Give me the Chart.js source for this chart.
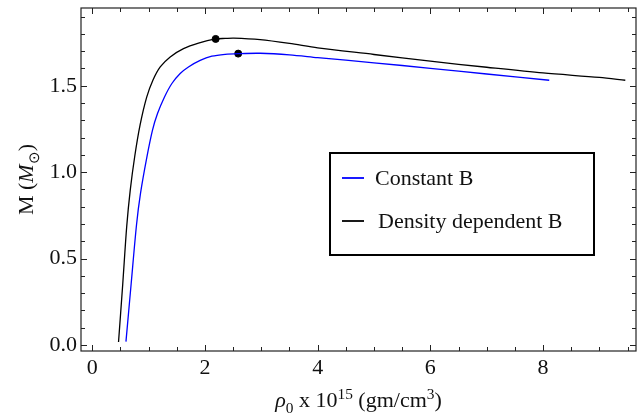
<!DOCTYPE html>
<html>
<head>
<meta charset="utf-8">
<script src="https://cdn.jsdelivr.net/npm/chart.js@4"></script>
<style>
  html, body { margin: 0; padding: 0; background: #fff; }
  #wrap { width: 643px; height: 419px; }
</style>
</head>
<body>
<div id="wrap"><canvas id="chart"></canvas></div>
<script>
// density rho0 (x 10^15 gm/cm^3) vs mass M (solar masses)
const constRho = [0.598, 0.691, 0.785, 0.856, 0.970, 1.069, 1.158, 1.282, 1.413, 1.560, 1.707, 1.915, 2.122, 2.358, 2.59, 2.98, 3.5, 4.0, 5.0, 6.0, 7.0, 8.11];
const constM   = [0.019, 0.357, 0.694, 0.877, 1.088, 1.243, 1.339, 1.435, 1.513, 1.571, 1.609, 1.647, 1.671, 1.682, 1.686, 1.688, 1.679, 1.663, 1.633, 1.601, 1.568, 1.532];

const densRho = [0.466, 0.541, 0.612, 0.674, 0.754, 0.848, 0.966, 1.076, 1.206, 1.383, 1.619, 1.885, 2.19, 2.36, 2.51, 2.98, 3.5, 4.0, 5.0, 6.0, 7.0, 8.0, 9.0, 9.46];
const densM   = [0.017, 0.353, 0.688, 0.896, 1.092, 1.272, 1.434, 1.532, 1.609, 1.667, 1.715, 1.747, 1.771, 1.774, 1.776, 1.767, 1.745, 1.719, 1.681, 1.642, 1.607, 1.574, 1.548, 1.532];

// maximum-mass markers
const maxRho = [2.19, 2.59];
const maxM   = [1.771, 1.686];

const xMajor = [0, 2, 4, 6, 8];
const yMajor = [0, 0.5, 1, 1.5];

const FONT = '"Liberation Serif", "Times New Roman", serif';

const pts = (xs, ys) => xs.map((x, i) => ({ x: x, y: ys[i] }));

// draw a run of text pieces: [text, italic, shift] shift: 0 / 'sub' / 'sup'
function richWidth(ctx, parts, size) {
  let w = 0;
  parts.forEach(p => {
    const s = p[2] ? size * 0.7 : size;
    ctx.font = (p[1] ? 'italic ' : '') + s + 'px ' + FONT;
    w += ctx.measureText(p[0]).width;
  });
  return w;
}
function drawRich(ctx, parts, x, y, size) {
  let cx = x;
  parts.forEach(p => {
    const s = p[2] ? size * 0.7 : size;
    ctx.font = (p[1] ? 'italic ' : '') + s + 'px ' + FONT;
    let dy = 0;
    if (p[2] === 'sub') dy = size * 0.25;
    if (p[2] === 'sup') dy = -size * 0.38;
    ctx.fillText(p[0], cx, y + dy);
    cx += ctx.measureText(p[0]).width;
  });
}

const framePlugin = {
  id: 'frame',
  afterDatasetsDraw(chart) {
    const ctx = chart.ctx;
    const a = chart.chartArea;
    const xs = chart.scales.x, ys = chart.scales.y;
    ctx.save();
    ctx.strokeStyle = '#222';
    ctx.lineWidth = 1.2;
    ctx.strokeRect(a.left, a.top, a.right - a.left, a.bottom - a.top);

    ctx.lineWidth = 1;
    ctx.beginPath();
    for (let v = 0; v <= 9.5001; v += 0.5) {
      const px = Math.round(xs.getPixelForValue(v)) + 0.5;
      const len = Math.abs(v % 2) < 1e-6 ? 6 : 4;
      ctx.moveTo(px, a.bottom); ctx.lineTo(px, a.bottom - len);
      ctx.moveTo(px, a.top); ctx.lineTo(px, a.top + len);
    }
    for (let i = 0; i <= 19; i++) {
      const v = i / 10;
      const py = Math.round(ys.getPixelForValue(v)) + 0.5;
      const len = i % 5 === 0 ? 6 : 4;
      ctx.moveTo(a.left, py); ctx.lineTo(a.left + len, py);
      ctx.moveTo(a.right, py); ctx.lineTo(a.right - len, py);
    }
    ctx.stroke();

    // axis titles
    ctx.fillStyle = '#111';
    ctx.textBaseline = 'alphabetic';
    const size = 22;
    const xParts = [['\u03C1', true, 0], ['0', false, 'sub'], [' x 10', false, 0], ['15', false, 'sup'],
                    [' (gm/cm', false, 0], ['3', false, 'sup'], [')', false, 0]];
    const xw = richWidth(ctx, xParts, size);
    drawRich(ctx, xParts, (a.left + a.right) / 2 - xw / 2, 407, size);

    const yParts = [['M (', false, 0], ['M', true, 0], ['\u2299', false, 'sub'], [')', false, 0]];
    const yw = richWidth(ctx, yParts, size);
    ctx.translate(33, (a.top + a.bottom) / 2);
    ctx.rotate(-Math.PI / 2);
    drawRich(ctx, yParts, -yw / 2, 0, size);
    ctx.restore();

    // legend box
    ctx.save();
    ctx.strokeStyle = '#000';
    ctx.lineWidth = 2;
    ctx.strokeRect(330, 153, 264, 102);
    ctx.font = '22px ' + FONT;
    ctx.fillStyle = '#111';
    ctx.textBaseline = 'middle';
    const legendRows = [[chart.data.datasets[0], 178, 375], [chart.data.datasets[1], 221, 378]];
    legendRows.forEach(r => {
      ctx.strokeStyle = r[0].borderColor;
      ctx.lineWidth = 1.8;
      ctx.beginPath();
      ctx.moveTo(342, r[1]); ctx.lineTo(364, r[1]);
      ctx.stroke();
      ctx.fillText(r[0].label, r[2], r[1] + 1);
    });
    ctx.restore();
  }
};

new Chart(document.getElementById('chart'), {
  type: 'scatter',
  data: {
    datasets: [
      {
        label: 'Constant B',
        data: pts(constRho, constM),
        showLine: true,
        borderColor: '#0000ff',
        borderWidth: 1.3,
        pointRadius: 0,
        tension: 0.3,
      },
      {
        label: 'Density dependent B',
        data: pts(densRho, densM),
        showLine: true,
        borderColor: '#000000',
        borderWidth: 1.3,
        pointRadius: 0,
        tension: 0.3,
      },
      {
        label: 'max',
        data: pts(maxRho, maxM),
        showLine: false,
        pointRadius: 3.5,
        backgroundColor: '#000',
        borderColor: '#000',
      }
    ]
  },
  options: {
    responsive: true,
    maintainAspectRatio: false,
    animation: false,
    layout: { padding: { top: 8, right: 7, left: 0, bottom: 0 } },
    plugins: {
      legend: { display: false },
      tooltip: { enabled: false },
    },
    scales: {
      x: {
        type: 'linear',
        min: -0.2,
        max: 9.65,
        grid: { display: false, tickLength: 0 },
        border: { display: false },
        afterBuildTicks: (s) => { s.ticks = xMajor.map(v => ({ value: v })); },
        afterFit: (s) => { s.height = 68; s.paddingLeft = 0; s.paddingRight = 0; },
        ticks: {
          color: '#111',
          font: { family: FONT, size: 22 },
          padding: 4,
          maxRotation: 0,
          callback: (v) => String(v),
        },
      },
      y: {
        type: 'linear',
        min: -0.035,
        max: 1.95,
        grid: { display: false, tickLength: 0 },
        border: { display: false },
        afterBuildTicks: (s) => { s.ticks = yMajor.map(v => ({ value: v })); },
        afterFit: (s) => { s.width = 81; s.paddingTop = 0; s.paddingBottom = 0; },
        ticks: {
          color: '#111',
          font: { family: FONT, size: 22 },
          padding: 4,
          callback: (v) => v.toFixed(1),
        },
      },
    },
  },
  plugins: [framePlugin],
});
</script>
</body>
</html>
